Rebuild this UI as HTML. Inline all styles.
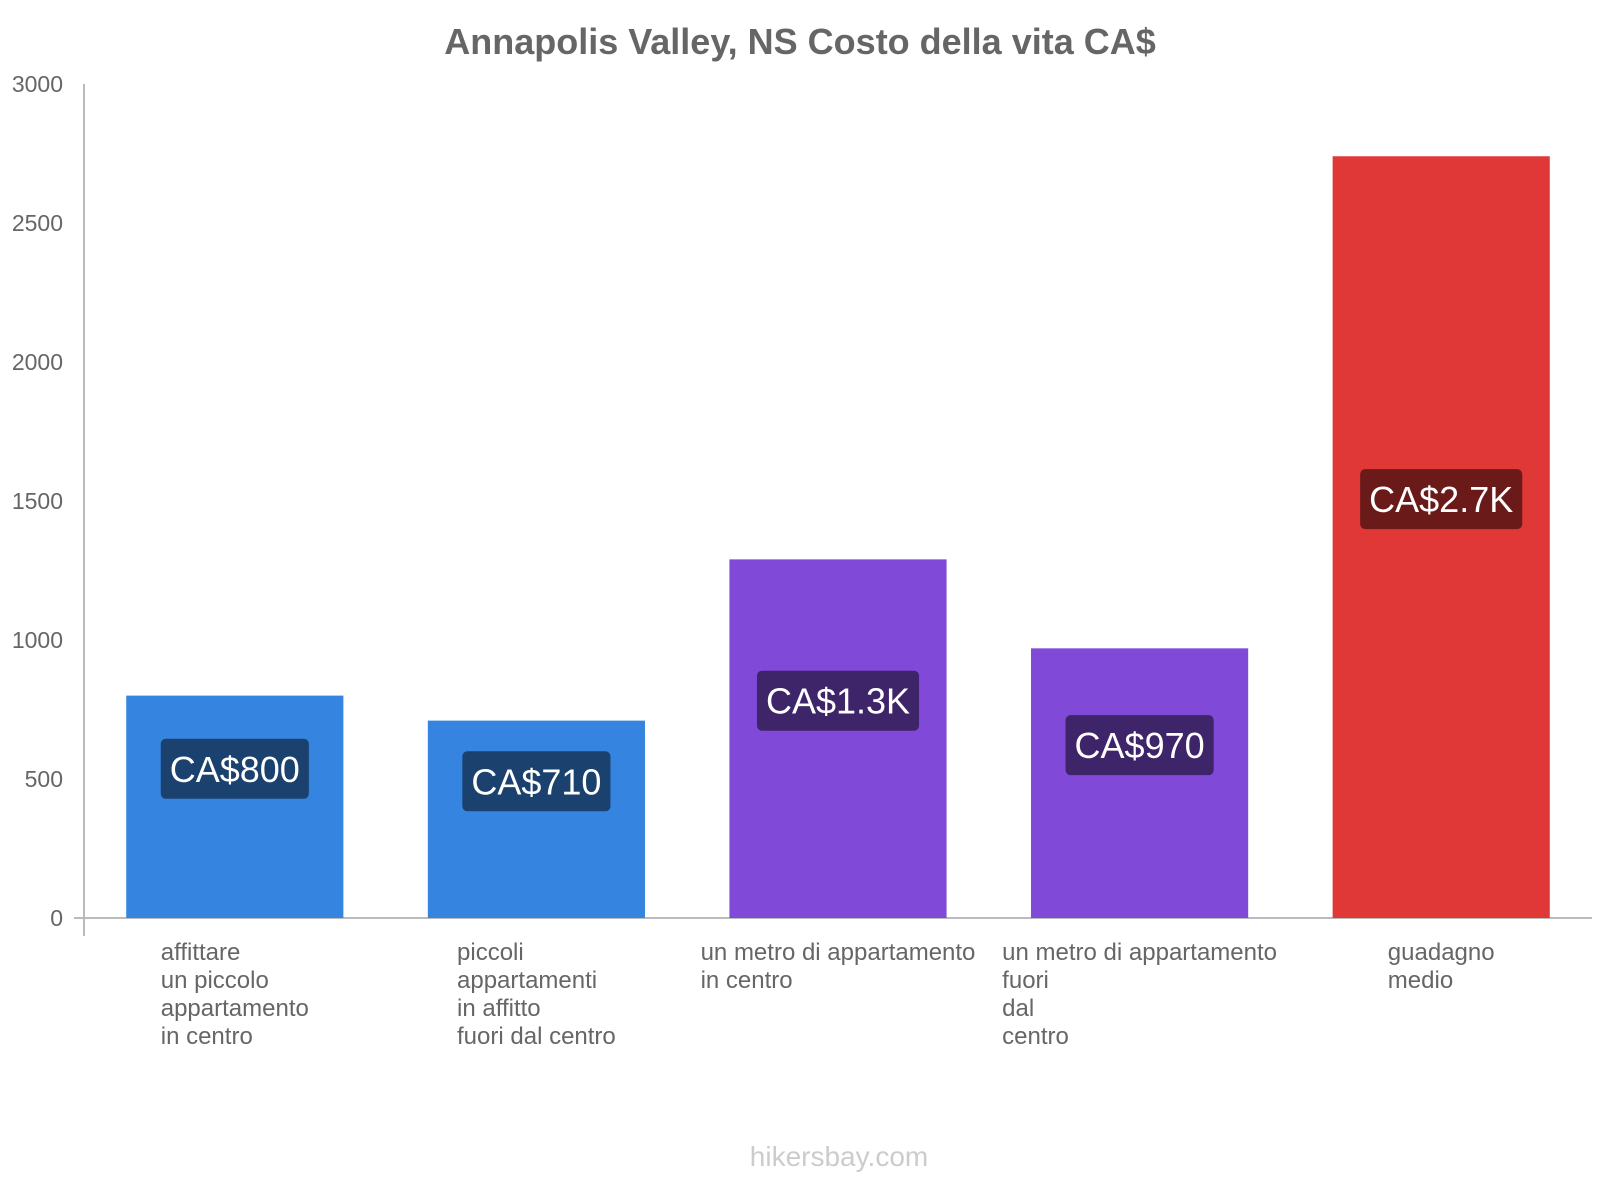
<!DOCTYPE html>
<html><head><meta charset="utf-8"><style>
html,body{margin:0;padding:0;background:#fff;}
svg{display:block;font-family:"Liberation Sans",Arial,sans-serif;}
</style></head><body>
<svg id="chart" width="1600" height="1200" viewBox="0 0 1600 1200">
<text x="800" y="54" text-anchor="middle" font-size="36" font-weight="bold" fill="#666">Annapolis Valley, NS Costo della vita CA$</text>
<g id="axes"></g><g id="bars"></g><g id="xlabels"></g>
<text x="839" y="1166" text-anchor="middle" font-size="28" fill="#ccc">hikersbay.com</text>
</svg>
<script>
const categories=[["affittare","un piccolo","appartamento","in centro"],["piccoli","appartamenti","in affitto","fuori dal centro"],["un metro di appartamento","in centro"],["un metro di appartamento","fuori","dal","centro"],["guadagno","medio"]];
const values=[800,710,1290,970,2740];
const valueLabels=["CA$800","CA$710","CA$1.3K","CA$970","CA$2.7K"];
const barColors=["#3584e0","#3584e0","#8049d8","#8049d8","#e03737"];
const labelColors=["#1b416e","#1b416e","#3e2468","#3e2468","#6b1a1a"];
const yTicks=[0,500,1000,1500,2000,2500,3000];

const NS="http://www.w3.org/2000/svg";
const x0=84,x1=1592,y0=918,yTop=84,yMax=3000;
const band=(x1-x0)/values.length;
const yS=v=>y0-(y0-yTop)*v/yMax;
const xC=i=>x0+band*(i+0.5);
function mk(t,a,p){const e=document.createElementNS(NS,t);for(const k in a)e.setAttribute(k,a[k]);p.appendChild(e);return e;}
const axes=document.getElementById('axes'),bars=document.getElementById('bars'),xl=document.getElementById('xlabels');
yTicks.forEach(t=>{const e=mk('text',{x:63,y:yS(t)+8,'text-anchor':'end','font-size':23,fill:'#666'},axes);e.textContent=t;

});
let l=mk('line',{x1:x0,y1:yTop,x2:x0,y2:y0+18,stroke:'#bbb','stroke-width':2},axes);


l=mk('line',{x1:x0-10,y1:y0,x2:x1,y2:y0,stroke:'#bbb','stroke-width':2},axes);


const bw=band*0.72;
values.forEach((v,i)=>{
 const r=mk('rect',{x:xC(i)-bw/2,y:yS(v),width:bw,height:y0-yS(v),fill:barColors[i]},bars);
 
 
 const cy=(yS(v)+y0)/2-38;
 const t=mk('text',{x:xC(i),y:cy+13,'text-anchor':'middle','font-size':36,fill:'#fff'},bars);
 t.textContent=valueLabels[i];
 const w=t.getComputedTextLength()+18;
 const bx=mk('rect',{x:xC(i)-w/2,y:cy-30,width:w,height:60,rx:5,fill:labelColors[i]},bars);
 bars.insertBefore(bx,t);
 
 
 
 
 const g=mk('g',{},xl);
 
 
 let mw=0;const ts=[];
 categories[i].forEach((s,j)=>{const tt=mk('text',{y:960+j*28,'font-size':24,fill:'#666'},g);tt.textContent=s;mw=Math.max(mw,tt.getComputedTextLength());ts.push(tt);});
 ts.forEach(tt=>tt.setAttribute('x',xC(i)-mw/2));
});
</script>
</body></html>
